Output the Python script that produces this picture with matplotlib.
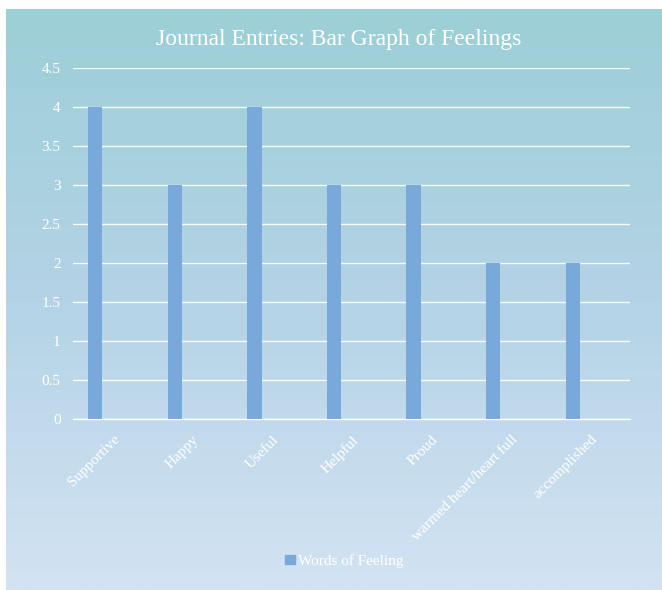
import matplotlib
matplotlib.use('Agg')
import matplotlib.pyplot as plt
import numpy as np
from matplotlib.colors import LinearSegmentedColormap
from matplotlib.patches import Patch

# data
feelings = ['Supportive', 'Happy', 'Useful', 'Helpful', 'Proud',
            'warmed heart/heart full', 'accomplished']
counts = [4, 3, 4, 3, 3, 2, 2]
series_name = 'Words of Feeling'
yticks = [0, 0.5, 1, 1.5, 2, 2.5, 3, 3.5, 4, 4.5]
ytick_labels = ['0', '0.5', '1', '1.5', '2', '2.5', '3', '3.5', '4', '4.5']

W, H = 662, 590
fig = plt.figure(figsize=(W / 100, H / 100), dpi=100)
fig.patch.set_facecolor('white')

# gradient panel (teal on top -> pale blue at bottom)
bg = fig.add_axes([6 / W, 0, 1 - 6 / W, 1 - 9 / H])
cmap = LinearSegmentedColormap.from_list('bg', ['#9ccfd6', '#b4d3e6', '#d3e3f3'])
grad = np.linspace(0, 1, 256).reshape(-1, 1)
bg.imshow(grad, aspect='auto', cmap=cmap, extent=[0, 1, 0, 1], origin='upper')
bg.axis('off')

# plot area
ax = fig.add_axes([73 / W, 1 - 419 / H, (630 - 73) / W, (419 - 68) / H])
ax.patch.set_alpha(0)
x = np.arange(len(feelings))
# bars sit left of the category centre (clustered slot, like the original)
ax.bar(x - 0.22, counts, width=0.18, color='#79a8da', zorder=3)
ax.set_xlim(-0.5, len(feelings) - 0.5)
ax.set_ylim(0, 4.5)
ax.set_yticks(yticks)
ax.set_yticklabels(ytick_labels)
ax.yaxis.grid(True, color='white', lw=1, alpha=0.9, zorder=1)
ax.set_axisbelow(True)
for s in ['top', 'right', 'left']:
    ax.spines[s].set_visible(False)
ax.spines['bottom'].set_color('white')
ax.spines['bottom'].set_linewidth(1)

font = 'Liberation Serif'
ax.set_xticks(x)
ax.set_xticklabels(feelings, rotation=45, ha='right', rotation_mode='anchor',
                   fontsize=11, color='white', family=font)
for lab in ax.get_yticklabels():
    lab.set_fontsize(11)
    lab.set_color('white')
    lab.set_family(font)
ax.tick_params(axis='y', length=0, pad=9)
ax.tick_params(axis='x', length=0, pad=10)

fig.text(338.5 / W, 1 - 40 / H, 'Journal Entries: Bar Graph of Feelings',
         ha='center', va='center', fontsize=17, color='white', family=font)

# legend
fig.legend(handles=[Patch(color='#79a8da', label=series_name)],
           loc='center', bbox_to_anchor=(0.52, 1 - 561 / H), frameon=False,
           handlelength=0.6, handleheight=0.6, handletextpad=0.2,
           prop={'family': font, 'size': 11}, labelcolor='white')

fig.savefig('out.png', dpi=100)
